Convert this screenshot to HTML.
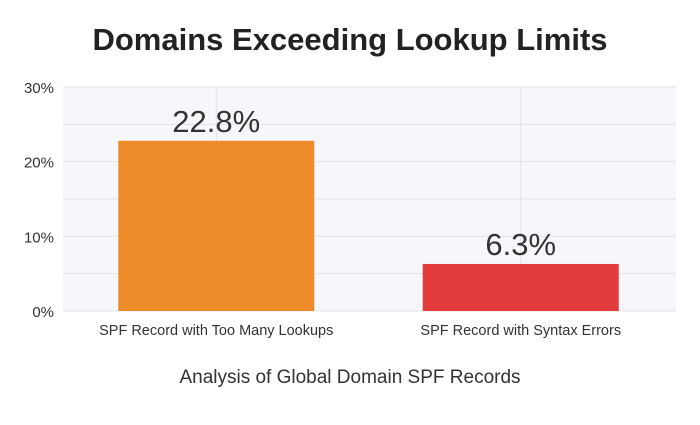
<!DOCTYPE html>
<html><head><meta charset="utf-8"><style>
body{margin:0;background:#fff;width:700px;height:420px;overflow:hidden}
svg text{font-family:"Liberation Sans",sans-serif}
</style></head><body>
<svg id="c" width="700" height="420">
<text x="350" y="50" text-anchor="middle" font-size="31" font-weight="bold" fill="#222">Domains Exceeding Lookup Limits</text>
<rect x="63" y="87" width="613" height="224" fill="#f5f7fa"/>
<g id="grid"></g><g id="bars"></g><g id="axes"></g>
<text x="350" y="383" text-anchor="middle" font-size="19" fill="#333">Analysis of Global Domain SPF Records</text>
</svg>
<script>
const categories=["SPF Record with Too Many Lookups","SPF Record with Syntax Errors"];
const values=[22.8,6.3];
const valueLabels=["22.8%","6.3%"];
const colors=["#ef8c2a","#e33b3b"];
const yTicks=[0,10,20,30];
const yTickLabels=["0%","10%","20%","30%"];
const ns="http://www.w3.org/2000/svg";
const L=63,R=676,T=87,B=311,yMax=30;
const y=v=>B-(v/yMax)*(B-T);
const band=(R-L)/categories.length;
const xc=i=>L+band*(i+0.5)-i*2;
function mk(tag,attrs,parent,txt){const e=document.createElementNS(ns,tag);for(const k in attrs)e.setAttribute(k,attrs[k]);if(txt!==undefined)e.textContent=txt;document.getElementById(parent).appendChild(e);return e;}
for(let v=0;v<=yMax;v+=5){const g=mk('line',{x1:L,x2:R,y1:y(v),y2:y(v),stroke:'#e1e4e8','stroke-width':1},'grid');

}
categories.forEach((c,i)=>{const gl=mk('line',{x1:xc(i),x2:xc(i),y1:T,y2:B,stroke:'#e1e4e8'},'grid');


const w=196;
const b=mk('rect',{x:xc(i)-w/2,y:y(values[i]),width:w,height:B-y(values[i]),fill:colors[i]},'bars');


const t=mk('text',{x:xc(i),y:y(values[i])-9,'text-anchor':'middle','font-size':31,fill:'#333'},'bars',valueLabels[i]);


const xl=mk('text',{x:xc(i),y:335,'text-anchor':'middle','font-size':14.5,fill:'#333'},'axes',c);

});
yTicks.forEach((v,i)=>{const t=mk('text',{x:54,y:y(v)+6,'text-anchor':'end','font-size':15,fill:'#333'},'axes',yTickLabels[i]);

});
</script>
</body></html>
